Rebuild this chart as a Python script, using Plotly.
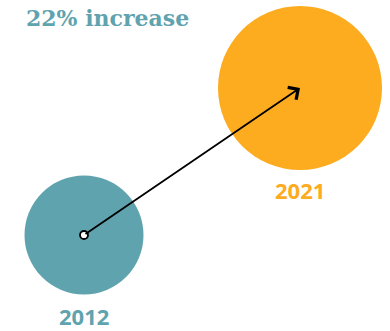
import plotly.graph_objects as go

# Data
years = [2012, 2021]
year_labels = ["2012", "2021"]
values = [100, 122]
title_text = "22% increase"

# Styles
colors = ["#5fa3ae", "#fdab1f"]
diameters = [119, 164]

fig = go.Figure()

fig.add_trace(go.Scatter(
    x=years, y=values, mode="markers",
    marker=dict(size=diameters, color=colors, line=dict(width=0), opacity=1),
    hoverinfo="skip", showlegend=False,
))

# arrow from 2012 to 2021
fig.add_annotation(
    x=years[1], y=values[1], ax=years[0], ay=values[0],
    xref="x", yref="y", axref="x", ayref="y",
    showarrow=True, arrowhead=4, arrowsize=1.6, arrowwidth=1.8,
    arrowcolor="#000000", text="",
)

# small open circle at start
fig.add_trace(go.Scatter(
    x=[years[0]], y=[values[0]], mode="markers",
    marker=dict(size=8, color="white", line=dict(color="black", width=1.8)),
    hoverinfo="skip", showlegend=False,
))

# year labels
fig.add_annotation(x=years[0], y=values[0], xref="x", yref="y", text="<b>%s</b>" % year_labels[0],
                   showarrow=False, yshift=-81, font=dict(family="Open Sans", size=22, color=colors[0]))
fig.add_annotation(x=years[1], y=values[1], xref="x", yref="y", text="<b>%s</b>" % year_labels[1],
                   showarrow=False, yshift=-102, font=dict(family="Open Sans", size=22, color=colors[1]))

# title
fig.add_annotation(x=24 / 390, y=1 - 18 / 331, xref="paper", yref="paper", xanchor="left", yanchor="middle",
                   text="<b>%s</b>" % title_text, showarrow=False,
                   font=dict(family="DejaVu Serif", size=22, color=colors[0]))

# axes map years/values onto the canvas
px_per_year = (300 - 84) / 9
px_per_val = (235 - 88) / 22
x0 = years[0] - 84 / px_per_year
x1 = years[0] + (390 - 84) / px_per_year
ytop = values[1] + 88 / px_per_val
ybot = values[0] - (331 - 235) / px_per_val

fig.update_xaxes(range=[x0, x1], visible=False, fixedrange=True)
fig.update_yaxes(range=[ybot, ytop], visible=False, fixedrange=True)
fig.update_layout(
    width=390, height=331, margin=dict(l=0, r=0, t=0, b=0),
    paper_bgcolor="white", plot_bgcolor="white",
)

fig.write_html("out.html", config={"displayModeBar": False})
